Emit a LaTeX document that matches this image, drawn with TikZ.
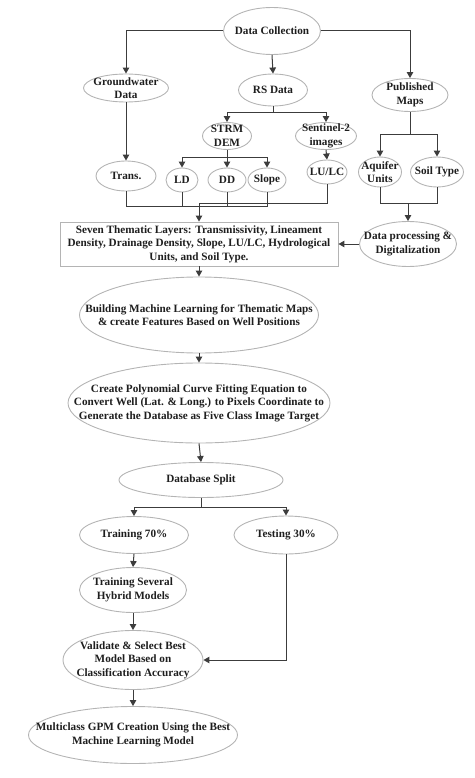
\documentclass[tikz,border=0pt]{standalone}
\usepackage{fontspec}
\setmainfont{Liberation Serif}
\usetikzlibrary{shapes.geometric,arrows.meta}
\definecolor{bord}{HTML}{B4B4B4}
\definecolor{conn}{HTML}{3C3C3C}
\definecolor{txtc}{HTML}{1E1E1E}
\newcommand\elnode[6]{%
  \node[#1, minimum width=#4pt, minimum height=#5pt] (#2) at (#3) {};
  \node[txtbox] (#2t) at (#2.center) {#6};}
\begin{document}
\begin{tikzpicture}[x=1pt,y=-1pt,
  el/.style={ellipse, draw=bord, line width=0.9pt, inner sep=0pt},
  rbox/.style={rectangle, draw=bord, line width=0.9pt, inner sep=0pt},
  txtbox/.style={inner sep=0pt, align=center, text=txtc, font=\bfseries\fontsize{11.2}{13.5}\selectfont},
  arr/.style={draw=conn, line width=1pt, -{Triangle[width=6.5pt,length=6pt]}},
  ln/.style={draw=conn, line width=1pt}]
\useasboundingbox (0,0) rectangle (474,778);
\elnode{el}{dc}{272,31}{97}{47}{Data Collection}
\elnode{el}{gw}{126,88}{85}{28}{Groundwater\\Data}
\elnode{el}{rs}{273,90}{69}{32}{RS Data}
\elnode{el}{pm}{410,95}{76}{33}{Published\\Maps}
\elnode{el}{strm}{227,136}{49}{27}{STRM\\DEM}
\elnode{el}{sent}{326,136}{61}{27}{Sentinel-2\\images}
\elnode{el}{trans}{126,176}{60}{30}{Trans.}
\elnode{el}{ld}{182,180}{32}{24}{LD}
\elnode{el}{dd}{227,180}{38}{24}{DD}
\elnode{el}{slope}{267,180}{38}{24}{Slope}
\elnode{el}{lulc}{327,172}{40}{24}{LU/LC}
\elnode{el}{aq}{380,172}{43}{30}{Aquifer\\Units}
\elnode{el}{soil}{437,172}{53}{30}{Soil Type}
\elnode{rbox}{stl}{199,244}{278}{44}{Seven Thematic Layers: Transmissivity, Lineament\\Density, Drainage Density, Slope, LU/LC, Hydrological\\Units, and Soil Type.}
\elnode{el}{dp}{408,244}{97}{45}{Data processing \&\\Digitalization}
\elnode{el}{bml}{199,315}{239}{76}{Building Machine Learning for Thematic Maps\\\& create Features Based on Well Positions}
\elnode{el}{poly}{199,403}{262}{80}{Create Polynomial Curve Fitting Equation to\\Convert Well (Lat. \& Long.) to Pixels Coordinate to\\Generate the Database as Five Class Image Target}
\elnode{el}{dbs}{201,480}{164}{35}{Database Split}
\elnode{el}{tr}{134,535}{109}{37}{Training 70\%}
\elnode{el}{te}{286,535}{104}{38}{Testing 30\%}
\elnode{el}{tsh}{133,590}{107}{45}{Training Several\\Hybrid Models}
\elnode{el}{val}{133,660}{140}{59}{Validate \& Select Best\\Model Based on\\Classification Accuracy}
\elnode{el}{mc}{133,735}{209}{57}{Multiclass GPM Creation Using the Best\\Machine Learning Model}
% connectors
\draw[arr] (dc.west) -| (gw.north);
\draw[arr] (dc.east) -| (pm.north);
\draw[arr] (dc.south) -- (rs.north);
\coordinate (rsb) at (273,113);
\draw[ln] (rs.south) -- (rsb);
\draw[arr] (rsb) -| (strm.north);
\draw[arr] (rsb) -| (sent.north);
\coordinate (stb) at (227,158);
\draw[ln] (strm.south) -- (stb);
\draw[arr] (stb) -| (ld.north);
\draw[arr] (stb) -- (dd.north);
\draw[arr] (stb) -| (slope.north);
\draw[arr] (sent.south) -- (lulc.north);
\draw[arr] (gw.south) -- (trans.north);
\coordinate (pmb) at (410,135);
\draw[ln] (pm.south) -- (pmb);
\draw[arr] (pmb) -| (aq.north);
\draw[arr] (pmb) -| (soil.north);
\coordinate (busA) at (0,206);
\coordinate (busB) at (0,203);
\draw[ln] (trans.south) |- (busA -| slope.south) -- (slope.south);
\draw[ln] (ld.south) -- (ld.south |- busA);
\draw[ln] (dd.south) -- (dd.south |- busA);
\draw[arr] (lulc.south) |- (busB -| stl.north) -- (stl.north);
\draw[ln] (aq.south) |- (busB -| soil.south) -- (soil.south);
\draw[arr] (busB -| dp.north) -- (dp.north);
\draw[arr] (dp.west) -- (stl.east);
\draw[arr] (stl.south) -- (bml.north);
\draw[arr] (bml.south) -- (poly.north);
\draw[arr] (poly.south) -- (dbs.north);
\coordinate (dbb) at (201,507);
\draw[ln] (dbs.south) -- (dbb);
\draw[arr] (dbb) -| (tr.north);
\draw[arr] (dbb) -| (te.north);
\draw[arr] (tr.south) -- (tsh.north);
\draw[arr] (tsh.south) -- (val.north);
\draw[arr] (te.south) |- (val.east);
\draw[arr] (val.south) -- (mc.north);
\end{tikzpicture}
\end{document}
